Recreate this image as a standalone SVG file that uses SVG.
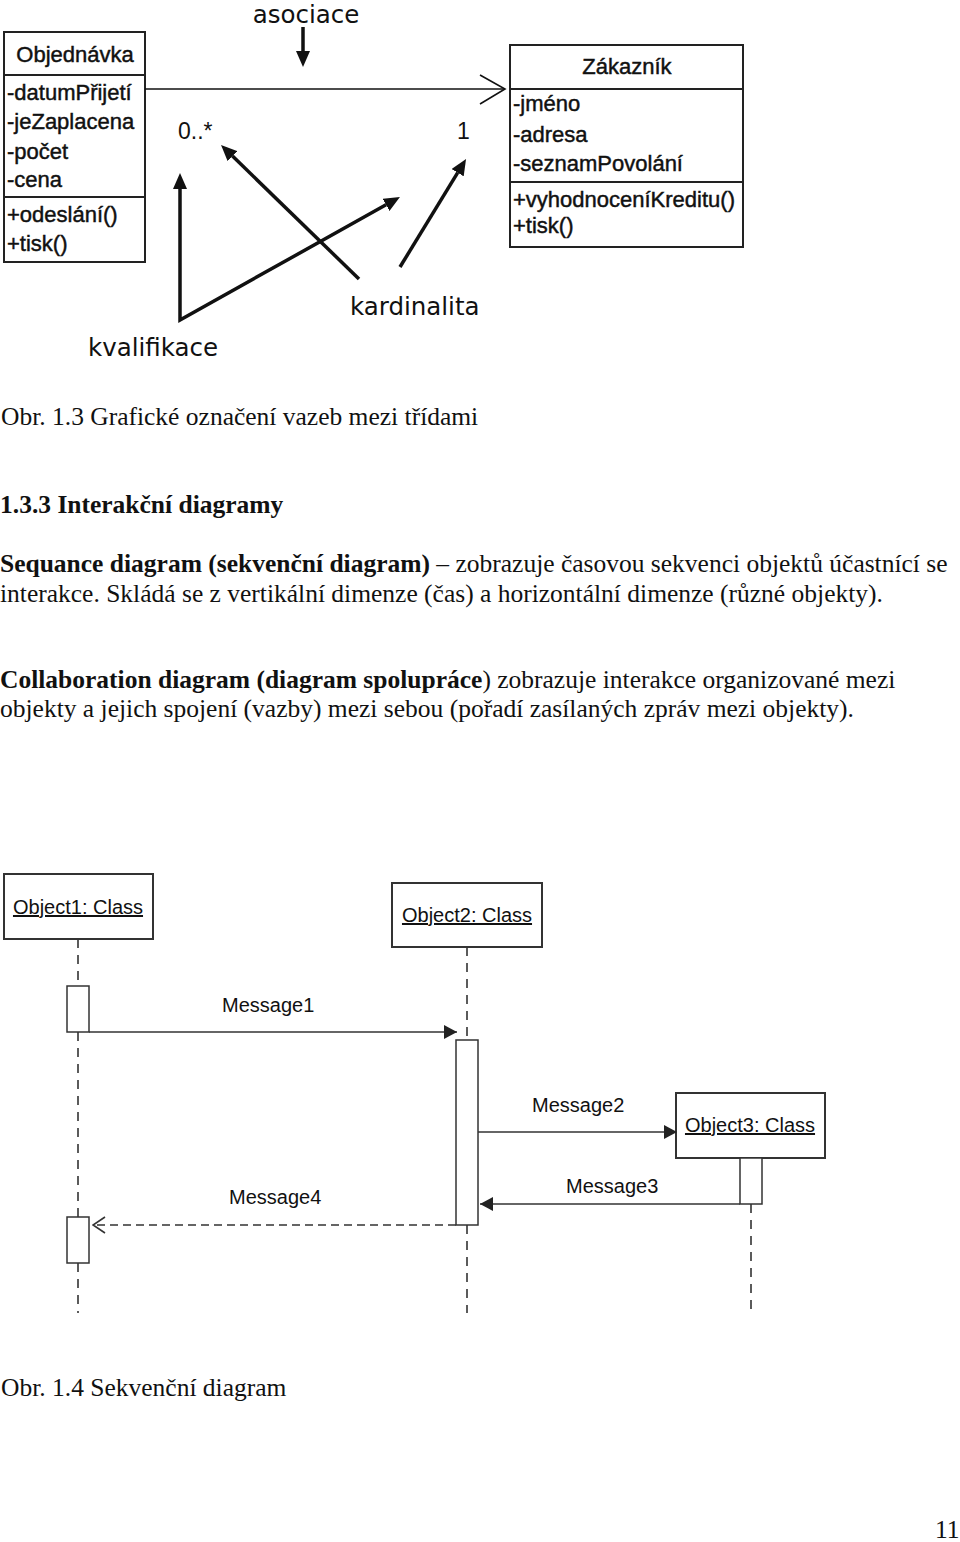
<svg xmlns="http://www.w3.org/2000/svg" width="960" height="1542" viewBox="0 0 960 1542">
<style>
.bg{fill:#fff}
.box{fill:#fff;stroke:#222;stroke-width:2}
.div{stroke:#222;stroke-width:2}
.uml{font-family:"Liberation Sans",Arial,sans-serif;font-size:22px;fill:#111;stroke:#111;stroke-width:0.45}
.lbl{font-family:"DejaVu Sans",sans-serif;font-size:24.5px;fill:#111}
.card{font-family:"Liberation Sans",Arial,sans-serif;font-size:23px;fill:#111}
.thick{fill:none;stroke:#111;stroke-width:3.5;stroke-linejoin:miter}
.thin{fill:none;stroke:#111;stroke-width:1.6}
.body{font-family:"Liberation Serif","Times New Roman",serif;font-size:25.5px;fill:#111}
.b{font-weight:bold}
.obj{fill:#fff;stroke:#333;stroke-width:2}
.act{fill:#fff;stroke:#333;stroke-width:1.5}
.life{fill:none;stroke:#333;stroke-width:1.6;stroke-dasharray:9 7}
.msg{fill:none;stroke:#333;stroke-width:1.6}
.ret{fill:none;stroke:#333;stroke-width:1.6;stroke-dasharray:8 5}
.sq{font-family:"Liberation Sans",Arial,sans-serif;font-size:20px;fill:#111}
.u{text-decoration:underline}
</style>
<defs>
<marker id="big" viewBox="0 0 16 14" refX="0" refY="7" markerWidth="16" markerHeight="14" markerUnits="userSpaceOnUse" orient="auto-start-reverse">
<path d="M0,0 L16,7 L0,14 z" fill="#111"/>
</marker>
<marker id="fill" viewBox="0 0 13 14" refX="13" refY="7" markerWidth="13" markerHeight="14" markerUnits="userSpaceOnUse" orient="auto">
<path d="M0,0 L13,7 L0,14 z" fill="#222"/>
</marker>
<marker id="open" viewBox="0 0 14 18" refX="13" refY="9" markerWidth="14" markerHeight="18" markerUnits="userSpaceOnUse" orient="auto">
<path d="M1,1 L13,9 L1,17" fill="none" stroke="#333" stroke-width="1.6"/>
</marker>
</defs>
<rect class="bg" x="0" y="0" width="960" height="1542"/>

<g id="objednavka">
<rect class="box" x="4" y="32" width="141" height="230"/>
<line class="div" x1="4" y1="75" x2="145" y2="75"/>
<line class="div" x1="4" y1="197" x2="145" y2="197"/>
<text class="uml" x="75" y="62" text-anchor="middle">Objednávka</text>
<text class="uml" x="7" y="100">-datumPřijetí</text>
<text class="uml" x="7" y="129">-jeZaplacena</text>
<text class="uml" x="7" y="159">-počet</text>
<text class="uml" x="7" y="187">-cena</text>
<text class="uml" x="7" y="222">+odeslání()</text>
<text class="uml" x="7" y="251">+tisk()</text>
</g>

<g id="zakaznik">
<rect class="box" x="510" y="45" width="233" height="202"/>
<line class="div" x1="510" y1="89" x2="743" y2="89"/>
<line class="div" x1="510" y1="182" x2="743" y2="182"/>
<text class="uml" x="627" y="74" text-anchor="middle">Zákazník</text>
<text class="uml" x="513" y="111">-jméno</text>
<text class="uml" x="513" y="142">-adresa</text>
<text class="uml" x="513" y="171">-seznamPovolání</text>
<text class="uml" x="513" y="207">+vyhodnoceníKreditu()</text>
<text class="uml" x="513" y="233">+tisk()</text>
</g>

<g id="labels-top">
<text class="lbl" x="306" y="23" text-anchor="middle">asociace</text>
<text class="lbl" x="350" y="315">kardinalita</text>
<text class="lbl" x="88" y="356">kvalifikace</text>
<text class="card" x="178" y="139">0..*</text>
<text class="card" x="457" y="139">1</text>
</g>

<g id="connectors-top">
<line class="thin" x1="145" y1="89" x2="505" y2="89"/>
<path class="thin" d="M480,75 L505,89 L480,104"/>
<line class="thick" x1="303" y1="27" x2="303" y2="51" marker-end="url(#big)"/>
<path class="thick" d="M180,189 L180,320 L386,204.8" marker-start="url(#big)" marker-end="url(#big)"/>
<line class="thick" x1="359" y1="279" x2="232.5" y2="156.1" marker-end="url(#big)"/>
<line class="thick" x1="400" y1="267" x2="457.7" y2="172.7" marker-end="url(#big)"/>
</g>

<g id="text-body">
<text class="body" x="1" y="425">Obr. 1.3 Grafické označení vazeb mezi třídami</text>
<text class="body b" x="0" y="513">1.3.3 Interakční diagramy</text>
<text class="body" x="0" y="572"><tspan class="b">Sequance diagram (sekvenční diagram)</tspan> – zobrazuje časovou sekvenci objektů účastnící se</text>
<text class="body" x="0" y="602">interakce. Skládá se z vertikální dimenze (čas) a horizontální dimenze (různé objekty).</text>
<text class="body" x="0" y="688"><tspan class="b">Collaboration diagram (diagram spolupráce</tspan>) zobrazuje interakce organizované mezi</text>
<text class="body" x="0" y="717">objekty a jejich spojení (vazby) mezi sebou (pořadí zasílaných zpráv mezi objekty).</text>
<text class="body" x="1" y="1396">Obr. 1.4 Sekvenční diagram</text>
<text class="body" x="935" y="1538">11</text>
</g>

<g id="object1">
<rect class="obj" x="4" y="874" width="149" height="65"/>
<text class="sq u" x="78" y="914" text-anchor="middle">Object1: Class</text>
</g>
<g id="object2">
<rect class="obj" x="392" y="883" width="150" height="64"/>
<text class="sq u" x="467" y="922" text-anchor="middle">Object2: Class</text>
</g>
<g id="object3">
<rect class="obj" x="676" y="1093" width="149" height="65"/>
<text class="sq u" x="750" y="1132" text-anchor="middle">Object3: Class</text>
</g>

<g id="lifelines">
<line class="life" x1="78" y1="939" x2="78" y2="986"/>
<line class="life" x1="78" y1="1032" x2="78" y2="1217"/>
<line class="life" x1="78" y1="1263" x2="78" y2="1313"/>
<line class="life" x1="467" y1="947" x2="467" y2="1040"/>
<line class="life" x1="467" y1="1225" x2="467" y2="1313"/>
<line class="life" x1="751" y1="1204" x2="751" y2="1313"/>
</g>

<g id="activations">
<rect class="act" x="67" y="986" width="22" height="46"/>
<rect class="act" x="67" y="1217" width="22" height="46"/>
<rect class="act" x="456" y="1040" width="22" height="185"/>
<rect class="act" x="740" y="1158" width="22" height="46"/>
</g>

<g id="connectors">
<line class="msg" x1="89" y1="1032" x2="457" y2="1032" marker-end="url(#fill)"/>
<line class="msg" x1="478" y1="1132" x2="677" y2="1132" marker-end="url(#fill)"/>
<line class="msg" x1="740" y1="1204" x2="480" y2="1204" marker-end="url(#fill)"/>
<line class="ret" x1="456" y1="1225" x2="93" y2="1225" marker-end="url(#open)"/>
</g>

<g id="message-labels">
<text class="sq" x="222" y="1012">Message1</text>
<text class="sq" x="532" y="1112">Message2</text>
<text class="sq" x="566" y="1193">Message3</text>
<text class="sq" x="229" y="1204">Message4</text>
</g>
</svg>
